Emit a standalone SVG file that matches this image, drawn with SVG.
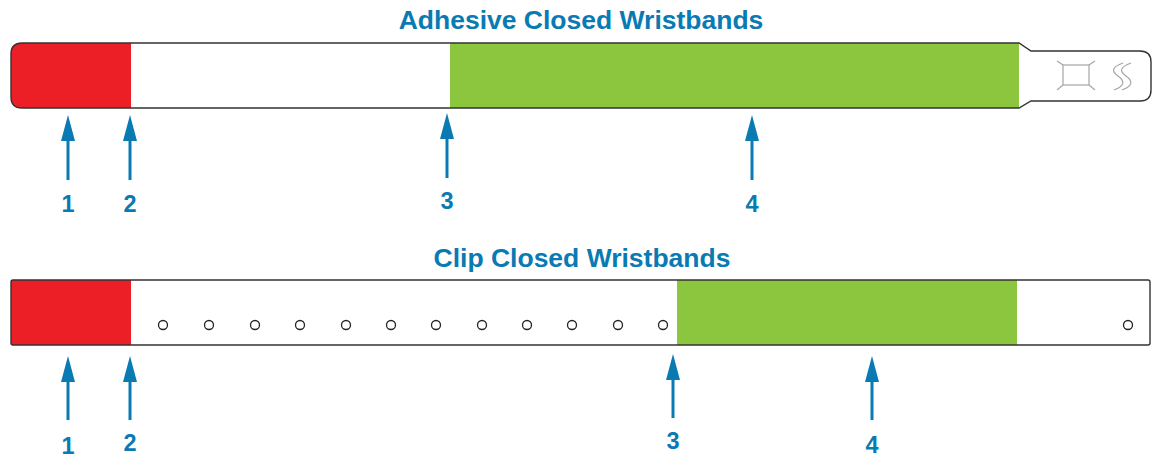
<svg xmlns="http://www.w3.org/2000/svg" width="1155" height="458" viewBox="0 0 1155 458">
<style>
.title{font-family:"Liberation Sans",Arial,sans-serif;font-weight:bold;font-size:26.5px;fill:#0a7ab3;text-anchor:middle}
.num{font-family:"Liberation Sans",Arial,sans-serif;font-weight:bold;font-size:23.5px;fill:#0a7ab3;text-anchor:middle}
.outline{fill:none;stroke:#333;stroke-width:1.4}
.red{fill:#ed1f26}
.green{fill:#8cc63f}
.hole{fill:#fff;stroke:#222;stroke-width:1.3}
.icon{fill:none;stroke:#a6a6a6;stroke-width:1.2}
.shaft{stroke:#0a7ab3;stroke-width:3;fill:none}
.head{fill:#0a7ab3}
</style>
<rect width="1155" height="458" fill="#fff"/>
<g id="title-adhesive"><text class="title" x="581" y="29">Adhesive Closed Wristbands</text></g>
<g id="band-adhesive">
<path d="M22 43 L1019 43 L1031 51 L1140 51 Q1151 51 1151 62 L1151 90 Q1151 101 1140 101 L1031 101 L1019 108 L22 108 Q11 108 11 97 L11 54 Q11 43 22 43 Z" fill="#fff"/>
<path class="red" d="M22 43 L131 43 L131 108 L22 108 Q11 108 11 97 L11 54 Q11 43 22 43 Z"/>
<rect class="green" x="450" y="43" width="569" height="65"/>
<path class="outline" d="M22 43 L1019 43 L1031 51 L1140 51 Q1151 51 1151 62 L1151 90 Q1151 101 1140 101 L1031 101 L1019 108 L22 108 Q11 108 11 97 L11 54 Q11 43 22 43 Z"/>
<rect class="icon" x="1063" y="65" width="26" height="20"/>
<path class="icon" d="M1057 61 L1063 65 M1095 61 L1089 65 M1057 90 L1063 85 M1095 90 L1089 85"/>
<path class="icon" d="M1123 63 C1112 67 1111 71 1118 76 C1125 81 1125 86 1114 90"/>
<path class="icon" d="M1131 63 C1120 67 1119 71 1126 76 C1133 81 1133 86 1122 90"/>
</g>
<g id="title-clip"><text class="title" x="582" y="267">Clip Closed Wristbands</text></g>
<g id="band-clip">
<rect x="11" y="280" width="1139" height="65" rx="2" fill="#fff"/>
<rect class="red" x="11" y="280" width="120" height="65"/>
<rect class="green" x="677" y="280" width="340" height="65"/>
<rect class="outline" x="11" y="280" width="1139" height="65" rx="2"/>
<circle class="hole" cx="163" cy="325" r="4.5"/>
<circle class="hole" cx="209" cy="325" r="4.5"/>
<circle class="hole" cx="255" cy="325" r="4.5"/>
<circle class="hole" cx="300" cy="325" r="4.5"/>
<circle class="hole" cx="346" cy="325" r="4.5"/>
<circle class="hole" cx="391" cy="325" r="4.5"/>
<circle class="hole" cx="436" cy="325" r="4.5"/>
<circle class="hole" cx="482" cy="325" r="4.5"/>
<circle class="hole" cx="527" cy="325" r="4.5"/>
<circle class="hole" cx="572" cy="325" r="4.5"/>
<circle class="hole" cx="618" cy="325" r="4.5"/>
<circle class="hole" cx="663" cy="325" r="4.5"/>
<circle class="hole" cx="1128" cy="325" r="4.5"/>
</g>
<g id="connectors">
<path class="shaft" d="M68 140 V180 M130 140 V180 M447 138 V178 M752 140 V180"/>
<path class="head" d="M68 115 L75 141 L61 141 Z M130 115 L137 141 L123 141 Z M447 113 L454 139 L440 139 Z M752 115 L759 141 L745 141 Z"/>
<path class="shaft" d="M68 381 V420 M130 381 V420 M673 379 V418 M872 381 V420"/>
<path class="head" d="M68 356 L75 382 L61 382 Z M130 356 L137 382 L123 382 Z M673 354 L680 380 L666 380 Z M872 356 L879 382 L865 382 Z"/>
</g>
<g id="labels-adhesive">
<text class="num" x="68" y="212">1</text>
<text class="num" x="130" y="212">2</text>
<text class="num" x="447" y="209">3</text>
<text class="num" x="752" y="212">4</text>
</g>
<g id="labels-clip">
<text class="num" x="68" y="454">1</text>
<text class="num" x="130" y="451">2</text>
<text class="num" x="673" y="449">3</text>
<text class="num" x="872" y="453">4</text>
</g>
</svg>
